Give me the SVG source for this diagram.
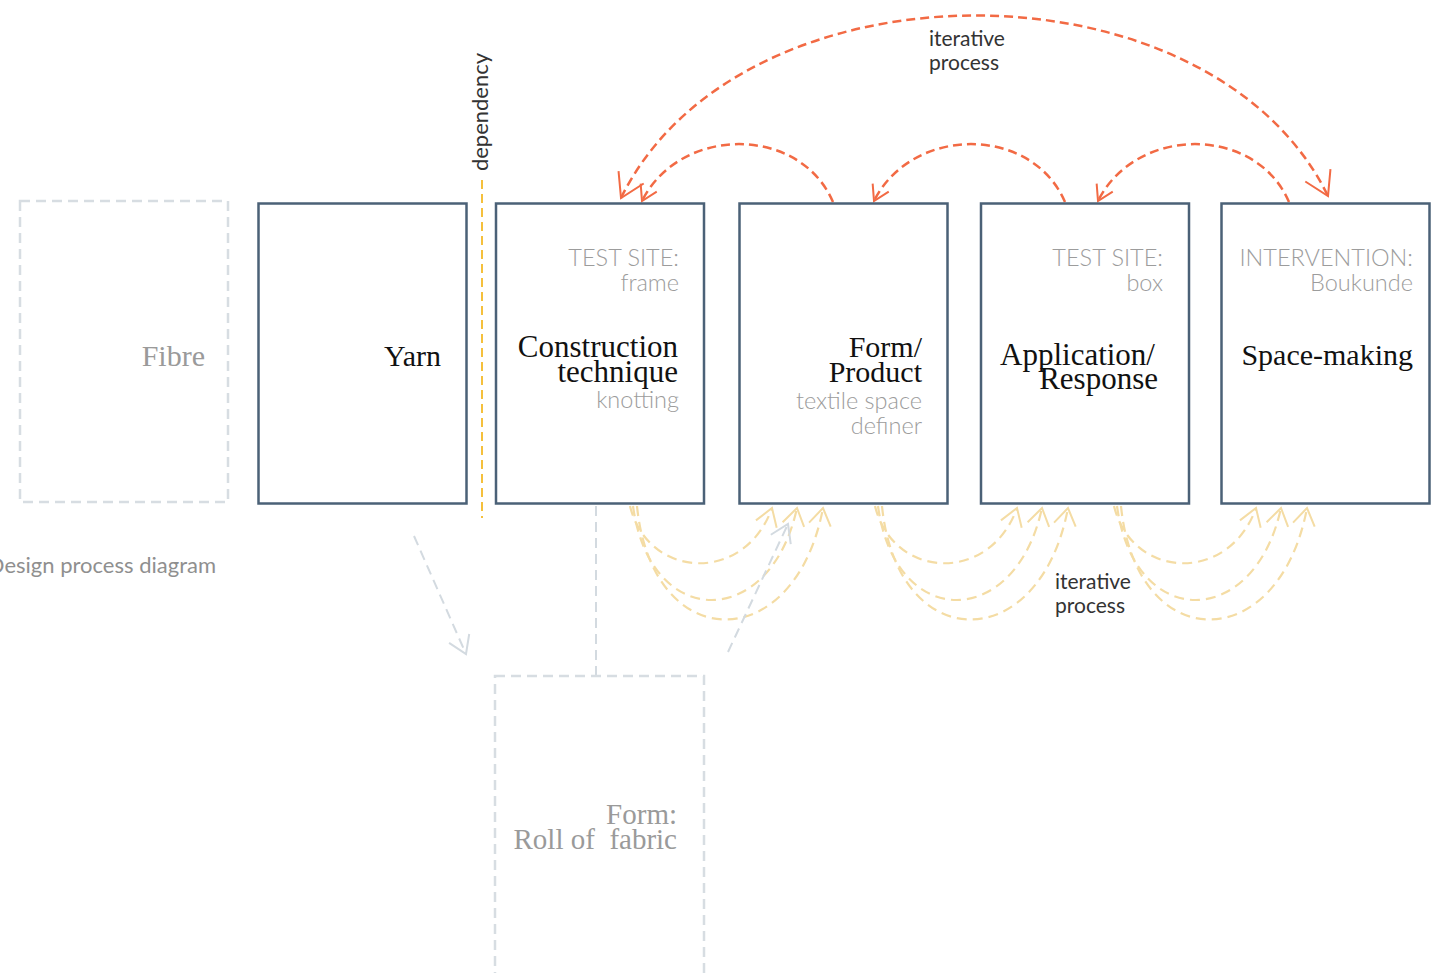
<svg xmlns="http://www.w3.org/2000/svg" width="1434" height="973" viewBox="0 0 1434 973">
  <style>
    .box { fill: #ffffff; stroke: #4b6177; stroke-width: 2.5; }
    .ghost { fill: none; stroke: #d7dde2; stroke-width: 2.5; stroke-dasharray: 10 6; }
    .serif { font-family: "Liberation Serif", "DejaVu Serif", serif; font-size: 30px; fill: #111111; text-anchor: end; }
    .serif-g { font-family: "Liberation Serif", "DejaVu Serif", serif; font-size: 29px; fill: #9a9a9a; text-anchor: end; }
    .sub { font-family: Lato, "Open Sans", sans-serif; font-weight: 300; font-size: 23.5px; fill: #9c9c9c; text-anchor: end; }
    .lbl { font-family: Lato, "Open Sans", sans-serif; font-size: 21px; fill: #333333; }
    .orange { fill: none; stroke: #f26a44; stroke-width: 2.5; stroke-dasharray: 9 5; }
    .yellow { fill: none; stroke: #f4dca4; stroke-width: 2.2; stroke-dasharray: 10 6; }
    .grey { fill: none; stroke: #d3dae0; stroke-width: 2; stroke-dasharray: 10 6; }
  </style>
  <defs>
    <marker id="ah-o" viewBox="0 0 16 18" markerWidth="16" markerHeight="18" refX="15" refY="9" orient="auto" markerUnits="userSpaceOnUse" overflow="visible">
      <path d="M0,0 L15,9 L0,18" fill="none" stroke="#f26a44" stroke-width="2"/>
    </marker>
    <marker id="ah-ob" viewBox="0 0 24 28" markerWidth="24" markerHeight="28" refX="23" refY="14" orient="auto-start-reverse" markerUnits="userSpaceOnUse" overflow="visible">
      <path d="M0,0 L23,14 L0,28" fill="none" stroke="#f26a44" stroke-width="2"/>
    </marker>
    <marker id="ah-y" viewBox="0 0 18 22" markerWidth="18" markerHeight="22" refX="17" refY="11" orient="auto" markerUnits="userSpaceOnUse" overflow="visible">
      <path d="M0,0 L17,11 L0,22" fill="none" stroke="#f4dca4" stroke-width="2"/>
    </marker>
    <marker id="ah-g" viewBox="0 0 18 22" markerWidth="18" markerHeight="22" refX="17" refY="11" orient="auto" markerUnits="userSpaceOnUse" overflow="visible">
      <path d="M0,0 L17,11 L0,22" fill="none" stroke="#d3dae0" stroke-width="2"/>
    </marker>
  </defs>

  <rect width="1434" height="973" fill="#ffffff"/>

  <g id="connectors">
    <!-- top iterative arcs -->
    <path class="orange" d="M621,198 C740,-45 1210,-45 1328,196" marker-start="url(#ah-ob)" marker-end="url(#ah-ob)"/>
    <path class="orange" d="M833,202 C800,125 680,125 642,201" marker-end="url(#ah-o)"/>
    <path class="orange" d="M1065,202 C1032,125 912,125 874,201" marker-end="url(#ah-o)"/>
    <path class="orange" d="M1289,202 C1256,125 1136,125 1098,201" marker-end="url(#ah-o)"/>
    <!-- bottom iterative arcs -->
    <path class="yellow" d="M630,506 C648,580 745,584 772,508" marker-end="url(#ah-y)"/>
    <path class="yellow" d="M633,506 C650,631 770,631 797,508" marker-end="url(#ah-y)"/>
    <path class="yellow" d="M637,506 C652,657 795,657 823,508" marker-end="url(#ah-y)"/>
    <path class="yellow" d="M875,506 C893,580 990,584 1017,508" marker-end="url(#ah-y)"/>
    <path class="yellow" d="M878,506 C895,631 1015,631 1042,508" marker-end="url(#ah-y)"/>
    <path class="yellow" d="M882,506 C897,657 1040,657 1068,508" marker-end="url(#ah-y)"/>
    <path class="yellow" d="M1114,506 C1132,580 1229,584 1256,508" marker-end="url(#ah-y)"/>
    <path class="yellow" d="M1117,506 C1134,631 1254,631 1281,508" marker-end="url(#ah-y)"/>
    <path class="yellow" d="M1121,506 C1136,657 1279,657 1307,508" marker-end="url(#ah-y)"/>
    <!-- grey links -->
    <path class="grey" d="M414,536 L466,654" marker-end="url(#ah-g)"/>
    <path class="grey" d="M728,652 L788,524" marker-end="url(#ah-g)"/>
    <path class="grey" d="M596,506 L596,676"/>
  </g>

  <g id="dependency">
    <line x1="482" y1="180" x2="482" y2="518" stroke="#f5c03c" stroke-width="2" stroke-dasharray="9 5"/>
    <text class="lbl" transform="translate(488,112) rotate(-90)" text-anchor="middle" style="font-size:22px">dependency</text>
  </g>

  <g id="fibre">
    <rect class="ghost" x="20" y="201" width="208" height="301"/>
    <text class="serif" x="205" y="366" style="fill:#9a9a9a">Fibre</text>
  </g>

  <g id="yarn">
    <rect class="box" x="258.5" y="203.5" width="208" height="300"/>
    <text class="serif" x="441" y="366">Yarn</text>
  </g>

  <g id="construction">
    <rect class="box" x="496" y="203.5" width="208" height="300"/>
    <text class="sub"><tspan x="679" y="266">TEST SITE:</tspan><tspan x="679" y="291">frame</tspan></text>
    <text class="serif" style="font-size:31px"><tspan x="678" y="357">Construction</tspan><tspan x="678" y="382">technique</tspan></text>
    <text class="sub" x="679" y="408">knotting</text>
  </g>

  <g id="form-product">
    <rect class="box" x="739.5" y="203.5" width="208" height="300"/>
    <text class="serif"><tspan x="922" y="357">Form/</tspan><tspan x="922" y="382">Product</tspan></text>
    <text class="sub"><tspan x="922" y="409">textile space</tspan><tspan x="922" y="434">definer</tspan></text>
  </g>

  <g id="application">
    <rect class="box" x="981" y="203.5" width="208" height="300"/>
    <text class="sub"><tspan x="1163" y="266">TEST SITE:</tspan><tspan x="1163" y="291">box</tspan></text>
    <text class="serif" style="font-size:31px"><tspan x="1155" y="365">Application/</tspan><tspan x="1158" y="389">Response</tspan></text>
  </g>

  <g id="space-making">
    <rect class="box" x="1221.5" y="203.5" width="208" height="300"/>
    <text class="sub"><tspan x="1413" y="266">INTERVENTION:</tspan><tspan x="1413" y="291">Boukunde</tspan></text>
    <text class="serif" x="1413" y="365">Space-making</text>
  </g>

  <g id="roll-of-fabric">
    <rect class="ghost" x="495" y="676" width="209" height="320"/>
    <text class="serif-g" xml:space="preserve"><tspan x="677" y="824">Form:</tspan><tspan x="677" y="849">Roll of  fabric</tspan></text>
  </g>

  <g id="labels">
    <text class="lbl"><tspan x="929" y="46">iterative</tspan><tspan x="929" y="70">process</tspan></text>
    <text class="lbl"><tspan x="1055" y="589">iterative</tspan><tspan x="1055" y="613">process</tspan></text>
    <text class="lbl" x="216" y="573" text-anchor="end" style="fill:#8f8f8f;font-size:22px">Design process diagram</text>
  </g>
</svg>
